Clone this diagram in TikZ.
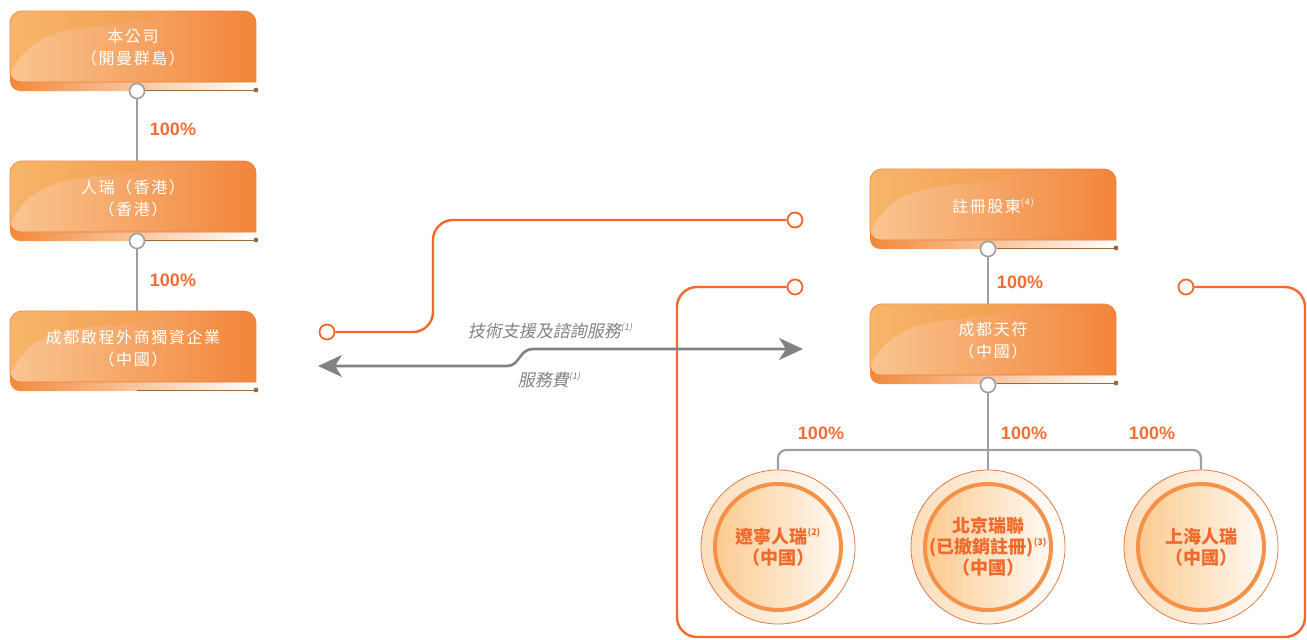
\documentclass[tikz,border=0pt]{standalone}
\usepackage{fontspec}
\newfontfamily\cjk[LetterSpace=10]{Noto Sans CJK TC}
\newfontfamily\cjkplain{Noto Sans CJK TC}
\newfontfamily\cjkslant[FakeSlant=0.2]{Noto Sans CJK TC}
\newfontfamily\pct{Liberation Sans}
\newcommand\smallnote[1]{\raisebox{0.45em}{\fontsize{9}{9}\selectfont #1}}
\usetikzlibrary{arrows.meta}

\begin{document}
\begin{tikzpicture}[x=1pt,y=-1pt,
	boxtext/.style={text=white,align=center,inner sep=0pt,font=\cjk\fontsize{16}{22}\selectfont},
	port/.style={circle,draw=linkgray,line width=1.6pt,fill=white,minimum size=15pt,inner sep=0pt},
	ring/.style={circle,draw=contract,line width=1.8pt,fill=white,minimum size=15pt,inner sep=0pt},
	link/.style={draw=linkgray,line width=2.2pt},
	contractline/.style={draw=contract,line width=2.4pt,rounded corners=20pt},
	flow/.style={draw=flowgray,line width=2.6pt,{Stealth[length=24pt,width=22pt,inset=7pt]}-{Stealth[length=24pt,width=22pt,inset=7pt]}},
	pctlabel/.style={text=pctorange,font=\pct\bfseries\fontsize{18}{18}\selectfont},
	flowlabel/.style={text=flowgray,font=\cjkslant\fontsize{17}{17}\selectfont},
	entity/.style={circle,minimum size=154pt,inner sep=0pt,draw=ringedge,line width=0.8pt,left color=ringpeach,right color=white,align=center,text=entityorange,font=\cjkplain\bfseries\fontsize{18}{21}\selectfont,
		path picture={\draw[line width=4pt,draw=innerring,left color=innerpeach,right color=white] (path picture bounding box.center) circle[radius=63pt];}},
	orgbox/.pic={
		\shade[left color=bandorange,right color=white] (0,40) -- (0,70) arc (180:90:10) -- (246,80) -- (246,40) -- cycle;
		\draw[draw=bandbrown,line width=1pt] (127,79) -- (246,79);
		\fill[bandbrown] (246,79) circle[radius=2.4pt];
		\shadedraw[left color=facelight,right color=facedark,draw=faceedge,line width=0.8pt] (0,61) -- (0,12) arc (180:270:12) -- (234,0) arc (270:360:12) -- (246,71) -- (10,71) arc (90:180:10) -- cycle;
		\shade[left color=capleft,right color=capright,opacity=0.65] (0,64) .. controls (15,30) and (40,18) .. (100,14) .. controls (135,11) and (150,2) .. (170,0) -- (12,0) arc (270:180:12) -- cycle;
		\node[boxtext] (-text) at (123,37) {#1};
		\coordinate (-top) at (123,0);
	}]
	\definecolor{linkgray}{HTML}{9D9FA2}
	\definecolor{flowgray}{HTML}{808285}
	\definecolor{contract}{HTML}{F2692E}
	\definecolor{pctorange}{HTML}{F26C35}
	\definecolor{entityorange}{HTML}{EF6A2C}
	\definecolor{ringedge}{HTML}{E07B45}
	\definecolor{ringpeach}{HTML}{FDDDBB}
	\definecolor{innerring}{HTML}{F4924A}
	\definecolor{innerpeach}{HTML}{FBC584}
	\definecolor{bandorange}{HTML}{F2893A}
	\definecolor{bandbrown}{HTML}{9B6A3C}
	\definecolor{facelight}{HTML}{F9C591}
	\definecolor{facedark}{HTML}{F2853A}
	\definecolor{faceedge}{HTML}{EF7D3A}
	\definecolor{capleft}{HTML}{F5AE55}
	\definecolor{capright}{HTML}{F49C4A}
	\useasboundingbox (0,0) rectangle (1307,640);

	\pic (hold) at (10,11) {orgbox={本公司\\（開曼群島）}};
	\pic (hk) at (10,161) {orgbox={人瑞（香港）\\（香港）}};
	\pic (wfoe) at (10,311) {orgbox={成都啟程外商獨資企業\\（中國）}};
	\pic (reg) at (870,169) {orgbox={註冊股東\smallnote{(4)}}};
	\pic (tianfu) at (870,304) {orgbox={成都天符\\（中國）}};

	\node[port] (holdport) at (137,91) {};
	\node[port] (hkport) at (137,241) {};
	\node[port] (regport) at (988,249) {};
	\node[port] (tianfuport) at (988,385) {};
	\draw[link] (holdport) -- (holdport |- hk-top);
	\draw[link] (hkport) -- (hkport |- wfoe-top);
	\draw[link] (regport) -- (regport |- tianfu-top);

	\node[pctlabel] (pcthk) at (173,129) {100\%};
	\node[pctlabel] (pctwfoe) at (173,280) {100\%};
	\node[pctlabel] (pcttianfu) at (1020,282) {100\%};
	\node[pctlabel] (pctliaoning) at (821,433) {100\%};
	\node[pctlabel] (pctbeijing) at (1024,433) {100\%};
	\node[pctlabel] (pctshanghai) at (1152,433) {100\%};

	\node[entity] (liaoning) at (778,547) {遼寧人瑞\smallnote{(2)}\\（中國）};
	\node[entity] (beijing) at (988,547) {北京瑞聯\\(已撤銷註冊)\smallnote{(3)}\\（中國）};
	\node[entity] (shanghai) at (1201,547) {上海人瑞\\（中國）};
	\coordinate (split) at (988,450);
	\draw[link] (tianfuport) -- (beijing);
	\draw[link,rounded corners=8pt] (liaoning.north) |- (split) -| (shanghai.north);

	\node[ring] (wfoering) at (327,332) {};
	\node[ring] (opcoring) at (795,220) {};
	\node[ring] (loopleft) at (795,287) {};
	\node[ring] (loopright) at (1186,287) {};
	\draw[contractline] (wfoering) -- (433,332) -- (433,220) -- (opcoring);
	\draw[contractline] (loopleft) -- (677,287) -- (677,637) -- (1305,637) -- (1305,287) -- (loopright);

	\coordinate (feeend) at (318,366);
	\coordinate (serviceend) at (803,349);
	\draw[flow] (feeend) -- (507,366) .. controls (520,366) and (519,349) .. (533,349) -- (serviceend);
	\node[flowlabel] (servicelabel) at (550,331) {技術支援及諮詢服務\smallnote{(1)}};
	\node[flowlabel] (feelabel) at (549,380) {服務費\smallnote{(1)}};
\end{tikzpicture}
\end{document}
